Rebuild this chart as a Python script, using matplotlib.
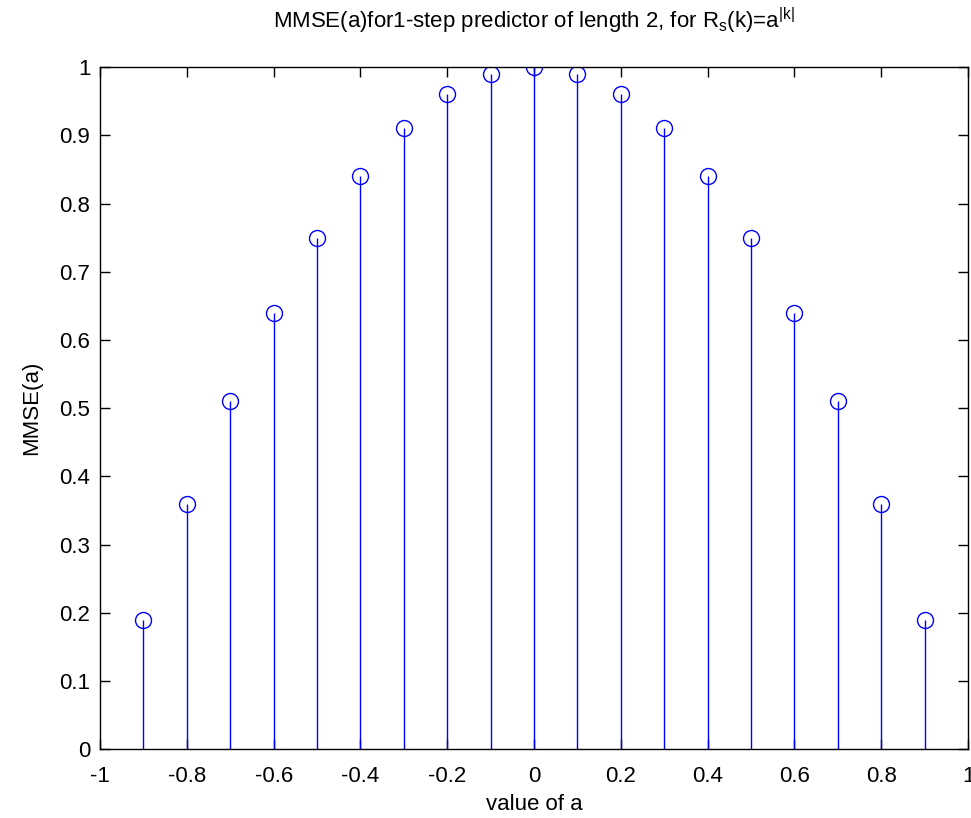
import numpy as np
import matplotlib
matplotlib.use("Agg")
import matplotlib.pyplot as plt

plt.rcParams['font.family'] = ['Liberation Sans', 'DejaVu Sans']
plt.rcParams['mathtext.fontset'] = 'custom'
plt.rcParams['mathtext.rm'] = 'Liberation Sans'
plt.rcParams['mathtext.it'] = 'Liberation Sans'

# correlation parameter a and the resulting minimum mean squared error
a_values = [-0.9, -0.8, -0.7, -0.6, -0.5, -0.4, -0.3, -0.2, -0.1, 0.0,
            0.1, 0.2, 0.3, 0.4, 0.5, 0.6, 0.7, 0.8, 0.9]
mmse = [0.19, 0.36, 0.51, 0.64, 0.75, 0.84, 0.91, 0.96, 0.99, 1.0,
        0.99, 0.96, 0.91, 0.84, 0.75, 0.64, 0.51, 0.36, 0.19]

x_ticks = [-1, -0.8, -0.6, -0.4, -0.2, 0, 0.2, 0.4, 0.6, 0.8, 1]
x_labels = ['-1', '-0.8', '-0.6', '-0.4', '-0.2', '0', '0.2', '0.4', '0.6', '0.8', '1']
y_ticks = [0, 0.1, 0.2, 0.3, 0.4, 0.5, 0.6, 0.7, 0.8, 0.9, 1]
y_labels = ['0', '0.1', '0.2', '0.3', '0.4', '0.5', '0.6', '0.7', '0.8', '0.9', '1']


def main():
    fig = plt.figure(figsize=(9.71, 8.18), dpi=100)
    ax = fig.add_axes([0.103, 0.084, 0.894, 0.834])

    markerline, stemlines, baseline = ax.stem(a_values, mmse, basefmt=' ')
    plt.setp(stemlines, color='#0000ff', linewidth=1.0)
    plt.setp(markerline, color='#0000ff', marker='o', markersize=11.5,
             markerfacecolor='none', markeredgewidth=1.0)

    ax.set_xlim(-1, 1)
    ax.set_ylim(0, 1)
    ax.set_xticks(x_ticks)
    ax.set_xticklabels(x_labels)
    ax.set_yticks(y_ticks)
    ax.set_yticklabels(y_labels)
    ax.tick_params(direction='in', top=True, right=True, length=7,
                   width=1, labelsize=16)
    ax.tick_params(axis='x', pad=12)
    ax.tick_params(axis='y', pad=7)
    for s in ax.spines.values():
        s.set_linewidth(1.0)

    ax.set_xlabel('value of a', fontsize=16, labelpad=5)
    ax.set_ylabel('MMSE(a)', fontsize=16, labelpad=12)
    ax.set_title(r'MMSE(a)for1-step predictor of length 2, for R$_\mathrm{s}$(k)=a$^{\mathrm{|k|}}$',
                 fontsize=16, pad=28)

    fig.savefig('out.png', dpi=100)


if __name__ == "__main__":
    main()
